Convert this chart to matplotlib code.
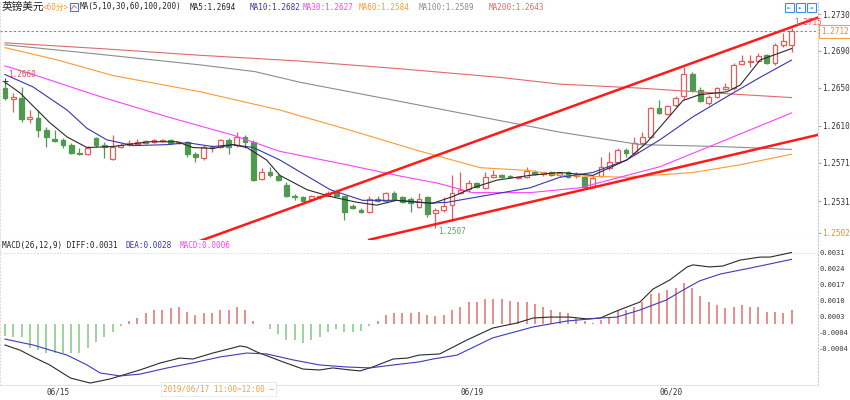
import numpy as np
import matplotlib.pyplot as plt
import matplotlib.transforms as mtransforms
from matplotlib.patches import Rectangle

MONO = ['DejaVu Sans Mono', 'Noto Sans CJK SC']
plt.rcParams['font.family'] = MONO

# 英镑美元 60分钟K线, 价格只写 1.xxxx 的后四位
k_open = [2653, 2641, 2643, 2621, 2622, 2609, 2600, 2599, 2594, 2585,
          2584, 2601, 2594, 2579, 2592, 2594, 2595, 2596, 2597, 2598,
          2599, 2596, 2597, 2584, 2580, 2590, 2592, 2599, 2594, 2602,
          2597, 2558, 2566, 2561, 2552, 2541, 2539, 2537, 2539, 2541,
          2544, 2540, 2530, 2526, 2524, 2537, 2535, 2544, 2539, 2537,
          2529, 2539, 2523, 2526, 2531, 2544, 2548, 2554, 2549, 2560,
          2562, 2561, 2559, 2560, 2566, 2563, 2565, 2562, 2565, 2561,
          2560, 2550, 2561, 2570, 2576, 2588, 2585, 2596, 2602, 2632,
          2626, 2635, 2645, 2668, 2651, 2637, 2644, 2652, 2653, 2678,
          2680, 2681, 2687, 2679, 2698, 2698]
k_high = [2660, 2648, 2654, 2630, 2630, 2612, 2609, 2601, 2596, 2591,
          2593, 2602, 2597, 2604, 2596, 2599, 2600, 2599, 2600, 2600,
          2600, 2598, 2598, 2586, 2594, 2594, 2600, 2601, 2607, 2604,
          2599, 2570, 2571, 2563, 2555, 2543, 2540, 2542, 2542, 2546,
          2546, 2541, 2532, 2528, 2540, 2540, 2545, 2546, 2540, 2539,
          2544, 2540, 2528, 2539, 2562, 2565, 2557, 2555, 2566, 2568,
          2563, 2562, 2561, 2571, 2568, 2566, 2567, 2566, 2567, 2566,
          2561, 2562, 2581, 2586, 2590, 2591, 2602, 2607, 2633, 2640,
          2635, 2645, 2675, 2670, 2654, 2646, 2654, 2658, 2679, 2687,
          2687, 2689, 2688, 2700, 2710, 2715]
k_low = [2640, 2628, 2618, 2617, 2602, 2592, 2597, 2591, 2584, 2583,
         2583, 2592, 2580, 2578, 2591, 2593, 2594, 2595, 2596, 2597,
         2595, 2595, 2581, 2576, 2578, 2586, 2591, 2584, 2592, 2591,
         2556, 2557, 2560, 2556, 2539, 2536, 2534, 2536, 2537, 2540,
         2540, 2516, 2527, 2523, 2523, 2534, 2534, 2536, 2533, 2524,
         2528, 2519, 2507, 2524, 2514, 2543, 2545, 2549, 2548, 2559,
         2559, 2559, 2558, 2559, 2562, 2561, 2561, 2560, 2559, 2559,
         2549, 2549, 2560, 2568, 2575, 2581, 2583, 2594, 2601, 2626,
         2625, 2633, 2640, 2649, 2638, 2635, 2643, 2651, 2651, 2677,
         2675, 2680, 2678, 2677, 2696, 2690]
k_close = [2643, 2644, 2621, 2623, 2609, 2602, 2598, 2594, 2585, 2584,
           2591, 2594, 2592, 2592, 2594, 2596, 2597, 2598, 2599, 2599,
           2596, 2597, 2584, 2581, 2592, 2592, 2599, 2592, 2602, 2597,
           2557, 2566, 2562, 2557, 2540, 2539, 2535, 2540, 2540, 2544,
           2541, 2524, 2528, 2524, 2537, 2535, 2544, 2537, 2534, 2533,
           2537, 2522, 2526, 2530, 2544, 2547, 2554, 2550, 2560, 2562,
           2560, 2560, 2560, 2567, 2563, 2565, 2562, 2564, 2560, 2563,
           2550, 2559, 2571, 2576, 2588, 2585, 2596, 2602, 2632, 2627,
           2634, 2643, 2668, 2651, 2639, 2644, 2653, 2654, 2677, 2681,
           2681, 2686, 2679, 2698, 2702, 2712]

# 均线, 读图取点 (K线序号, 价格后四位)
ma5_idx = [0, 1.8, 5.4, 7.5, 9.9, 13, 17.5, 20.8, 22.7, 25.1, 27.5, 29.2, 31.6, 33.2,
           36.5, 39.3, 42.5, 44.9, 47.3, 50.1, 51.7, 54.1, 56.5, 59.4, 63.4, 67, 71,
           75.1, 77.5, 79.1, 81.9, 83.9, 87.2, 88.8, 91.2, 95]
ma5_val = [2659, 2648, 2617, 2602, 2591, 2592, 2597, 2597, 2591, 2590, 2594, 2591, 2578, 2562,
           2547, 2540, 2534, 2531, 2536, 2534, 2533, 2540, 2549, 2557, 2562, 2565, 2562,
           2578, 2596, 2612, 2640, 2646, 2649, 2656, 2682, 2694]
ma10_idx = [0, 3.4, 7.5, 9.9, 12.3, 15.5, 19.6, 22, 25.1, 27.5, 30, 33.2, 39.3, 43.2,
            47.3, 51.3, 53.4, 57.4, 63.4, 67, 71, 75.1, 79.1, 83.1, 87.2, 91.2, 95]
ma10_val = [2667, 2654, 2630, 2611, 2599, 2593, 2594, 2596, 2592, 2594, 2591, 2578, 2547, 2536,
            2536, 2533, 2534, 2540, 2549, 2560, 2565, 2578, 2599, 2623, 2644, 2664, 2682]
ma30_idx = [0, 3.4, 11.5, 19.6, 27.5, 33.2, 41.3, 47.3, 52.2, 56.5, 63.4, 69.4, 79.1, 85.1, 95]
ma30_val = [2676, 2667, 2644, 2623, 2604, 2587, 2573, 2562, 2554, 2544, 2544, 2549, 2571, 2592, 2627]
ma60_idx = [0, 6.4, 13, 23.6, 33.2, 41.7, 49.8, 57.4, 63.4, 67, 75.1, 83.1, 88.8, 95]
ma60_val = [2695, 2682, 2666, 2649, 2630, 2609, 2588, 2570, 2567, 2562, 2560, 2565, 2573, 2584]
ma100_idx = [0, 11.5, 23.6, 30.2, 35.6, 47.7, 59.8, 67, 76.7, 86.4, 95]
ma100_val = [2698, 2688, 2677, 2670, 2659, 2639, 2619, 2607, 2594, 2592, 2589]
ma200_idx = [0, 11.5, 23.6, 35.6, 47.7, 59.8, 67, 76.3, 87.2, 95]
ma200_val = [2700, 2694, 2687, 2681, 2673, 2664, 2657, 2653, 2647, 2643]

# MACD(26,12,9), 单位 0.0001
macd_bar = [-5.5, -5.7, -6.1, -10.5, -11.4, -13.1, -13.1, -13.1, -13.1, -12.7,
            -10.5, -7.9, -5.7, -3.9, -1.3, 1.3, 2.6, 4.4, 5.7, 6.1,
            6.6, 7.0, 5.2, 3.9, 4.4, 4.8, 6.1, 5.7, 7.0, 5.7,
            1.3, -0.4, -2.6, -4.4, -7.0, -7.4, -8.3, -7.0, -5.7, -3.9,
            -2.6, -3.5, -3.5, -3.1, -0.9, 1.3, 3.9, 4.8, 4.8, 4.4,
            5.2, 3.5, 3.1, 3.9, 6.1, 7.4, 9.2, 9.6, 10.9, 10.9,
            10.9, 10.0, 9.2, 9.2, 8.7, 7.0, 6.1, 5.2, 4.4, 2.6,
            0.9, 0.4, 1.7, 2.6, 5.7, 5.7, 7.4, 9.2, 12.7, 13.5,
            14.8, 15.3, 17.9, 15.7, 12.2, 9.2, 7.9, 6.6, 7.4, 7.9,
            7.4, 7.0, 5.2, 5.2, 4.8, 6.0]
diff_idx = [0, 1.8, 3.4, 5.4, 7.9, 10.3, 12.7, 13.9, 16.3, 18.7, 21.1, 22.7, 25.1, 27.5,
            28.4, 29.2, 30.4, 33.6, 36, 38, 39.6, 41.7, 42.9, 44.4, 46.9, 48.6, 50, 52.5,
            55.8, 58.9, 61.8, 63.8, 65.8, 68.2, 70.3, 71.9, 73.9, 76.7, 78.3, 80.3, 82.4,
            83.1, 85.1, 86.7, 88.8, 91.2, 92.4, 95]
diff_val = [-9.4, -11.6, -14.6, -18.1, -23.8, -26.0, -24.2, -22.9, -20.3, -17.3, -15.1, -15.5,
            -12.9, -10.7, -9.8, -10.3, -12.4, -16.8, -19.9, -20.3, -19.4, -20.3, -20.7, -19.0,
            -15.5, -15.1, -13.8, -13.3, -7.2, -2.0, 0.2, 2.4, 2.8, 2.8, 2.0, 2.4, 5.5, 9.4,
            15.1, 19.0, 24.7, 25.6, 24.7, 25.1, 27.7, 29.0, 29.0, 31.0]
dea_idx = [0, 3.4, 7.5, 9.9, 11.5, 13.9, 16.3, 19.6, 22.7, 26, 29.2, 31.6, 34.8, 38, 41.3,
           44.1, 46.9, 50, 51.7, 54.6, 58.9, 63.8, 67.9, 71.9, 73.9, 76.7, 79.9, 81.9,
           83.9, 86.4, 90, 95]
dea_val = [-6.8, -9.4, -13.8, -18.1, -21.6, -22.9, -22.1, -19.4, -17.2, -14.6, -12.9, -13.3,
           -15.9, -18.1, -19.0, -19.4, -18.1, -16.8, -15.5, -13.8, -6.3, -1.5, 1.1, 2.4,
           2.8, 5.9, 10.3, 14.6, 18.6, 21.6, 24.2, 28.0]

# 手画通道线 (K线序号, 价格)
chan_up_idx, chan_up_px = [23.0, 98.1], [1.2492, 1.2726]
chan_dn_idx, chan_dn_px = [44.0, 98.1], [1.2495, 1.2604]

last_price = 1.2712
price_ticks = [1.2730, 1.26915, 1.2653, 1.26134, 1.25749, 1.25353, 1.2502]
price_labels = ['1.2730', '1.2690', '1.2650', '1.2610', '1.2571', '1.2531', '1.2502']
macd_ticks = [0.0031, 0.0024, 0.0017, 0.0010, 0.0003, -0.0004, -0.0011]
macd_labels = ['0.0031', '0.0024', '0.0017', '0.0010', '0.0003', '-0.0004', '-0.0004']
day_idx = [5, 55, 79]
day_labels = ['06/15', '06/19', '06/20']

RED = '#e35d5d'
GREEN = '#4f9a4f'
FS = 5.5

op = 1 + np.array(k_open) / 1e4
hp = 1 + np.array(k_high) / 1e4
lp = 1 + np.array(k_low) / 1e4
cp = 1 + np.array(k_close) / 1e4
x = np.arange(len(op))

W, H = 850, 400
fig = plt.figure(figsize=(8.5, 4), dpi=100)
ax1 = fig.add_axes([0, 1 - 240 / H, 818 / W, 240 / H])
ax2 = fig.add_axes([0, 1 - 385 / H, 818 / W, 145 / H])


def px_text(px, py, s, **kw):
    fig.text(px / W, 1 - py / H, s, va='center', ha='left', **kw)


def px_box(px, py, w, h, **kw):
    fig.add_artist(Rectangle((px / W, 1 - (py + h) / H), w / W, h / H,
                             transform=fig.transFigure, **kw))


# --- K线 ---
for i in x:
    up = cp[i] >= op[i]
    col = RED if up else GREEN
    ax1.vlines(i, lp[i], hp[i], color=col, lw=0.9, zorder=2)
    ax1.add_patch(Rectangle((i - 0.29, min(op[i], cp[i])), 0.58,
                            max(abs(cp[i] - op[i]), 0.00002),
                            facecolor='white' if up else col, edgecolor=col,
                            lw=0.9, zorder=3))

for idx, val, col in [(ma200_idx, ma200_val, '#e06a6a'), (ma100_idx, ma100_val, '#8c8c8c'),
                      (ma60_idx, ma60_val, '#ff9a30'), (ma30_idx, ma30_val, '#ff40ff'),
                      (ma10_idx, ma10_val, '#3535b5'), (ma5_idx, ma5_val, '#2a2a2a')]:
    ax1.plot(idx, 1 + np.array(val) / 1e4, color=col, lw=0.8, zorder=4)

ax1.plot(chan_up_idx, chan_up_px, color='#ff1a1a', lw=1.8, zorder=5)
ax1.plot(chan_dn_idx, chan_dn_px, color='#ff1a1a', lw=1.8, zorder=5)
ax1.axhline(last_price, color='#3d96f0', lw=0.8, ls=(0, (2, 2)), zorder=1)

# 高低点标注
ax1.plot(0, hp[0], marker='+', ms=4, color='#444', mew=0.8, zorder=6)
ax1.annotate('1.2660', (0, hp[0]), xytext=(2.2, 5), textcoords='offset points',
             color='#e85050', fontsize=FS, va='center', ha='left', zorder=6)
lo_i = int(np.argmin(lp))
ax1.annotate('1.2507', (lo_i, lp[lo_i]), xytext=(1.8, -2.5), textcoords='offset points',
             color='#4caf50', fontsize=FS, va='center', ha='left', zorder=6)
hi_i = int(np.argmax(hp))
ax1.annotate('1.2715', (hi_i, hp[hi_i]), xytext=(2.2, 4.5), textcoords='offset points',
             color='#e85050', fontsize=FS, va='center', ha='left', zorder=6)

trans = mtransforms.blended_transform_factory(ax1.transAxes, ax1.transData)
ax1.text(1.004, last_price, '1.2712', transform=trans, color='#f08a24', fontsize=FS,
         ha='left', va='center', zorder=7, clip_on=False,
         bbox=dict(boxstyle='square,pad=0.25', fc='white', ec='#f5a040', lw=0.8))

ax1.set_xlim(-0.6, 98.2)
ax1.set_ylim(1.2730 - 226 / 9605, 1.2730 + 14 / 9605)
ax1.yaxis.tick_right()
ax1.set_yticks(price_ticks)
ax1.set_yticklabels(price_labels)
ax1.set_xticks([])

# --- MACD ---
bar_cols = ['#e87878' if v >= 0 else '#8cc98c' for v in macd_bar]
ax2.vlines(x, 0, np.array(macd_bar) / 1e4, colors=bar_cols, lw=1.2, zorder=2)
ax2.plot(diff_idx, np.array(diff_val) / 1e4, color='#2a2a2a', lw=0.8, zorder=3)
ax2.plot(dea_idx, np.array(dea_val) / 1e4, color='#3b3bbf', lw=0.8, zorder=3)
ax2.axhline(0.0031, color='#d6d6e4', lw=0.6, ls=(0, (2, 2)), zorder=1)
ax2.set_xlim(-0.6, 98.2)
ax2.set_ylim(-61.5 / 22900, 83.5 / 22900)
ax2.yaxis.tick_right()
ax2.set_yticks(macd_ticks)
ax2.set_yticklabels(macd_labels)
ax2.set_xticks(day_idx)
ax2.set_xticklabels(day_labels, ha='left')

for ax in (ax1, ax2):
    ax.set_facecolor('white')
    ax.tick_params(axis='x', labelsize=FS, length=0, pad=1.5, labelcolor='#333333')
    ax.spines['top'].set_visible(False)
    ax.spines['left'].set_color('#dddddd')
    ax.spines['left'].set_linestyle((0, (1, 2)))
    ax.spines['right'].set_color('#c8c8c8')
    ax.spines['right'].set_linestyle((0, (1, 2)))
ax1.tick_params(axis='y', labelsize=FS, length=2, pad=0.8, colors='#aaaaaa',
                labelcolor='#333333')
ax2.tick_params(axis='y', labelsize=5.1, length=0, pad=0.8, labelcolor='#333333')
ax1.get_yticklabels()[-1].set_color('#f08a24')
ax1.spines['bottom'].set_color('#dcdcdc')
ax2.spines['bottom'].set_color('#e4e4e4')

# --- 图例文字 ---
px_text(2, 7, '英镑美元', color='#222222', fontsize=7.7, family=['Noto Sans CJK SC'])
px_text(43, 7, '<60分>', color='#f0a030', fontsize=5.5)
px_box(70, 3, 8, 8, fill=False, ec='#3a7fd8', lw=0.8)
fig.add_artist(plt.Line2D([71.5 / W, 74 / W, 76.5 / W], [1 - 9 / H, 1 - 5.5 / H, 1 - 8 / H],
                          transform=fig.transFigure, color='#e05050', lw=0.6))
for px, s, col in [(80, 'MA(5,10,30,60,100,200)', '#222222'), (190, 'MA5:1.2694', '#222222'),
                   (250, 'MA10:1.2682', '#3535b5'), (303, 'MA30:1.2627', '#ff40ff'),
                   (359, 'MA60:1.2584', '#ff9a30'), (419, 'MA100:1.2589', '#8c8c8c'),
                   (489, 'MA200:1.2643', '#e06a6a')]:
    px_text(px, 7, s, color=col, fontsize=FS)

for px, s, col in [(2, 'MACD(26,12,9) DIFF:0.0031', '#222222'), (126, 'DEA:0.0028', '#3535b5'),
                   (180, 'MACD:0.0006', '#ff40ff')]:
    px_text(px, 245.7, s, color=col, fontsize=FS)

# 右上角按钮
for bx, g in [(785, '⇤'), (796, '▸'), (807, '⇥')]:
    px_box(bx, 3, 9, 9, fill=False, ec='#3a8ee6', lw=0.8)
    px_text(bx + 1.5, 7.5, g, color='#3a8ee6', fontsize=5)

# 十字光标时间
px_text(163, 389, '2019/06/17 11:00~12:00 —', color='#f0a040', fontsize=FS,
        bbox=dict(boxstyle='square,pad=0.3', fc='white', ec='#e6e6e6', lw=0.6))

fig.savefig('out.png', dpi=100)
